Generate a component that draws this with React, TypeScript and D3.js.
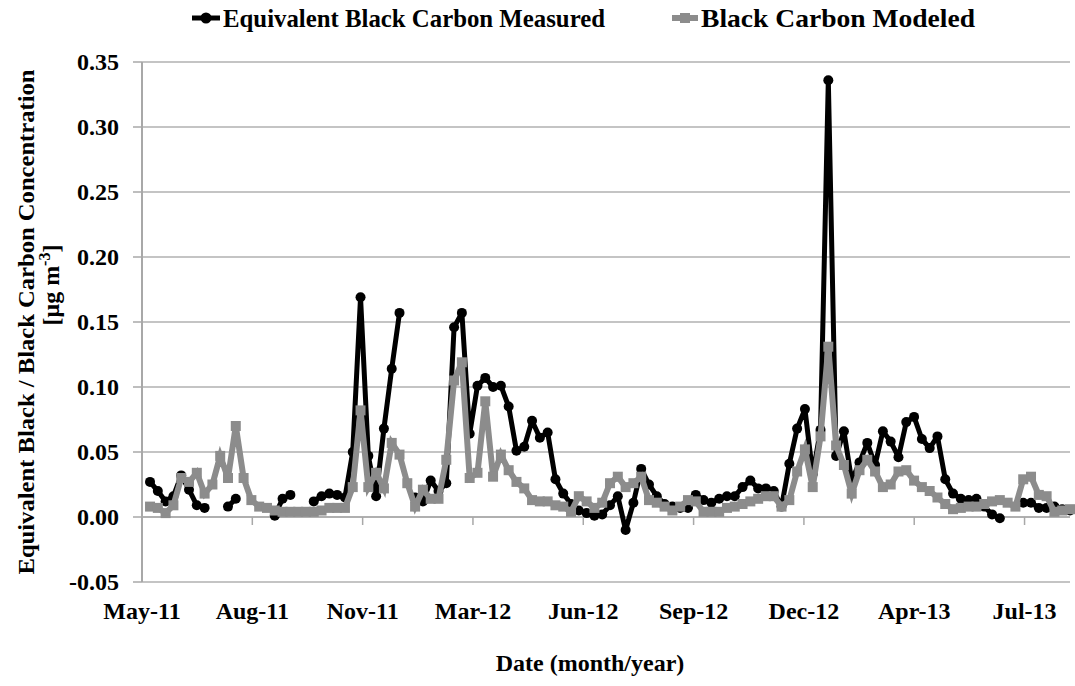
import * as d3 from "d3";

// weekly samples, May 2011 -> Aug 2013 (null = no measurement)
const measured: (number | null)[] = [
  0.027, 0.020, 0.012, 0.016, 0.032, 0.021, 0.009, 0.007, null, null,
  0.008, 0.014, null, null, null, null, 0.001, 0.014, 0.017, null,
  null, 0.012, 0.016, 0.018, 0.017, 0.015, 0.050, 0.169, 0.047, 0.016,
  0.068, 0.114, 0.157, null, 0.015, 0.012, 0.028, 0.020, 0.026, 0.146,
  0.157, 0.064, 0.101, 0.107, 0.100, 0.101, 0.085, 0.051, 0.054, 0.074,
  0.061, 0.065, 0.029, 0.018, 0.010, 0.005, 0.003, 0.001, 0.002, 0.009,
  0.016, -0.010, 0.011, 0.037, 0.025, 0.016, 0.010, 0.008, 0.007, 0.007,
  0.017, 0.013, 0.011, 0.014, 0.016, 0.016, 0.023, 0.028, 0.022, 0.022,
  0.020, 0.008, 0.041, 0.068, 0.083, 0.033, 0.067, 0.336, 0.047, 0.066,
  0.028, 0.042, 0.057, 0.040, 0.066, 0.058, 0.046, 0.073, 0.077, 0.060,
  0.053, 0.062, 0.029, 0.018, 0.014, 0.013, 0.014, 0.008, 0.002, -0.001,
  null, null, 0.011, 0.011, 0.007, 0.007, 0.008, 0.006, 0.005,
];

const modeled: number[] = [
  0.008, 0.007, 0.003, 0.009, 0.030, 0.027, 0.034, 0.018, 0.025, 0.047,
  0.030, 0.070, 0.030, 0.013, 0.008, 0.007, 0.005, 0.004, 0.004, 0.004,
  0.004, 0.004, 0.005, 0.007, 0.007, 0.007, 0.023, 0.082, 0.023, 0.034,
  0.022, 0.057, 0.048, 0.026, 0.008, 0.021, 0.014, 0.014, 0.044, 0.105,
  0.119, 0.030, 0.034, 0.089, 0.031, 0.048, 0.036, 0.027, 0.022, 0.013,
  0.012, 0.012, 0.009, 0.008, 0.004, 0.016, 0.012, 0.007, 0.011, 0.026,
  0.031, 0.023, 0.026, 0.031, 0.013, 0.011, 0.008, 0.005, 0.008, 0.013,
  0.012, 0.004, 0.004, 0.004, 0.007, 0.008, 0.010, 0.012, 0.014, 0.016,
  0.016, 0.008, 0.013, 0.035, 0.052, 0.023, 0.062, 0.131, 0.055, 0.040,
  0.018, 0.036, 0.044, 0.035, 0.023, 0.025, 0.035, 0.036, 0.028, 0.023,
  0.020, 0.015, 0.010, 0.006, 0.007, 0.008, 0.008, 0.010, 0.012, 0.013,
  0.011, 0.008, 0.029, 0.031, 0.017, 0.016, 0.004, 0.005, 0.006,
];

const tickLabels = ["May-11", "Aug-11", "Nov-11", "Mar-12", "Jun-12", "Sep-12", "Dec-12", "Apr-13", "Jul-13"];
const yTicks = [-0.05, 0, 0.05, 0.1, 0.15, 0.2, 0.25, 0.3, 0.35];
const WEEKS_PER_TICK = 14.15;
const X_START = -1.03;

const FONT = "'Liberation Serif', 'Times New Roman', serif";
const GREY = "#8c8c8c";
const GRID = "#c4c4c4";

export default function App() {
  const width = 1075, height = 686;
  const margin = { top: 62, right: 5, bottom: 104, left: 142 };
  const innerW = width - margin.left - margin.right;
  const innerH = height - margin.top - margin.bottom;

  const x = d3.scaleLinear()
    .domain([X_START, modeled.length - 1])
    .range([0, innerW]);
  const y = d3.scaleLinear()
    .domain([-0.05, 0.35])
    .range([innerH, 0]);

  const xTicks = tickLabels.map((_, k) => X_START + k * WEEKS_PER_TICK);

  const measLine = d3.line<number | null>()
    .defined(d => d != null)
    .x((_, i) => x(i))
    .y(d => y(d as number));
  const modLine = d3.line<number>()
    .x((_, i) => x(i))
    .y(d => y(d));

  return (
    <svg width={width} height={height}
      style={{ position: "absolute", left: 0, top: 0, background: "#fff" }}
      fontFamily={FONT} fontWeight="bold">
      {/* legend */}
      <g transform="translate(0, 18)">
        <line x1={192} x2={220} stroke="#000" strokeWidth={5} />
        <circle cx={206} cy={0} r={5.5} fill="#000" />
        <text x={223} y={9} fontSize={25} textLength={382} lengthAdjust="spacingAndGlyphs">
          Equivalent Black Carbon Measured
        </text>
        <line x1={672} x2={698} stroke={GREY} strokeWidth={6} />
        <rect x={680} y={-5} width={10} height={10} fill={GREY} />
        <text x={701} y={9} fontSize={25} textLength={274} lengthAdjust="spacingAndGlyphs">
          Black Carbon Modeled
        </text>
      </g>

      <g transform={`translate(${margin.left}, ${margin.top})`}>
        {/* grid + y ticks */}
        {yTicks.map(t => (
          <g key={t} transform={`translate(0, ${y(t)})`}>
            <line x1={0} x2={innerW} stroke={t === 0 ? "#b0b0b0" : GRID} strokeWidth={2} />
            <line x1={-9} x2={0} stroke="#a8a8a8" strokeWidth={1.5} />
            <text x={-23} dy="0.35em" textAnchor="end" fontSize={24}>
              {t.toFixed(2)}
            </text>
          </g>
        ))}
        <line x1={0} x2={0} y1={0} y2={innerH} stroke="#a8a8a8" strokeWidth={2} />

        {/* x ticks hang from the zero line, labels sit under the plot */}
        {xTicks.map((t, k) => (
          <g key={k} transform={`translate(${x(t)}, 0)`}>
            <line y1={y(0)} y2={y(0) + 8} stroke="#a8a8a8" strokeWidth={1.5} />
            <text y={innerH + 37} textAnchor="middle" fontSize={24}>{tickLabels[k]}</text>
          </g>
        ))}

        {/* measured (under) */}
        <path d={measLine(measured) ?? ""} fill="none" stroke="#000" strokeWidth={5} strokeLinejoin="round" />
        {measured.map((d, i) => d == null ? null : (
          <circle key={i} cx={x(i)} cy={y(d)} r={5} fill="#000" />
        ))}

        {/* modeled (over) */}
        <path d={modLine(modeled) ?? ""} fill="none" stroke={GREY} strokeWidth={6} strokeLinejoin="miter" />
        {modeled.map((d, i) => (
          <rect key={i} x={x(i) - 5} y={y(d) - 5} width={10} height={10} fill={GREY} />
        ))}
      </g>

      {/* axis titles */}
      <text x={590} y={671} textAnchor="middle" fontSize={24}>Date (month/year)</text>
      <text transform="translate(34, 322) rotate(-90)" textAnchor="middle" fontSize={24}
        textLength={505} lengthAdjust="spacingAndGlyphs">
        Equivalent Black / Black Carbon Concentration
      </text>
      <text transform="translate(59, 285) rotate(-90)" textAnchor="middle" fontSize={24}>
        [μg m<tspan dy={-9} fontSize={16}>-3</tspan><tspan dy={9}>]</tspan>
      </text>
    </svg>
  );
}
